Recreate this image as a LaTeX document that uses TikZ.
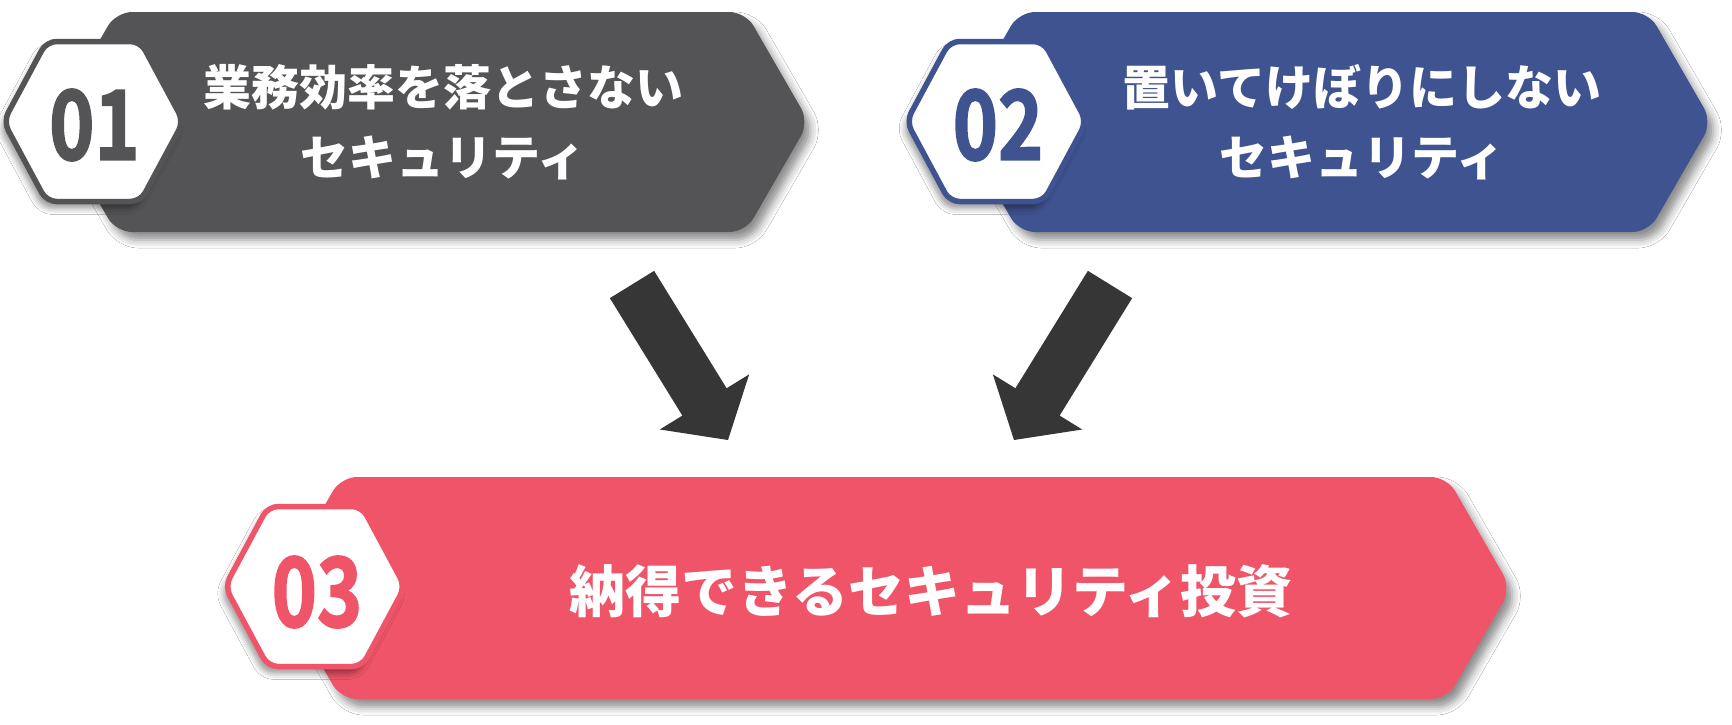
\documentclass[tikz,border=0pt]{standalone}
\usepackage{fontspec}
\usepackage{graphicx}
\newfontfamily\jp{Noto Sans CJK JP}
\newfontfamily\numf{Noto Sans CJK JP Bold}[FakeBold=2]
\usetikzlibrary{calc,shadows.blur}
\definecolor{cgray}{HTML}{545456}
\definecolor{cnavy}{HTML}{3E538F}
\definecolor{cpink}{HTML}{F05469}
\definecolor{carrow}{HTML}{363636}
\tikzset{
  softshadow/.style={blur shadow={shadow xshift=6pt, shadow yshift=-8pt, shadow blur radius=8pt, shadow opacity=45}},
  bodyshape/.style={rounded corners=16pt, softshadow},
  badgeshape/.style={fill=white, line width=5.5pt, rounded corners=10pt,
    blur shadow={shadow xshift=-4pt, shadow yshift=-7pt, shadow blur radius=6pt, shadow opacity=40}},
  lbl/.style={text=white, font=\jp\bfseries\fontsize{48}{70}\selectfont, align=center, inner sep=0pt},
  lblbig/.style={text=white, font=\jp\bfseries\fontsize{56}{66}\selectfont, inner sep=0pt},
  numlbl/.style={font=\numf\fontsize{96}{96}\selectfont, inner sep=0pt},
  fatarrow/.style={fill=carrow},
}
\newcommand{\mybadge}[3]{%
  \draw[badgeshape, draw=#3, shift={(#1,#2)}]
    (0,-80) -- (47,-80) -- (90,0) -- (47,80) -- (-47,80) -- (-90,0) -- (-47,-80) -- cycle;}
\begin{document}
\begin{tikzpicture}[x=1pt,y=-1pt]
  \path[fill=white, use as bounding box] (0,0) rectangle (1732,724);

  % bodies
  \fill[cgray, bodyshape]
    (430,12) -- (745.5,12) -- (809,122) -- (745.5,232) -- (116,232) -- (52.5,122) -- (116,12) -- cycle;
  \fill[cnavy, bodyshape]
    (1333,12) -- (1648.5,12) -- (1712,122) -- (1648.5,232) -- (1019,232) -- (955.5,122) -- (1019,12) -- cycle;
  \fill[cpink, bodyshape]
    (900,477) -- (1447,477) -- (1511,588) -- (1447,699) -- (341,699) -- (277,588) -- (341,477) -- cycle;

  % badges
  \mybadge{93.5}{121.5}{cgray}
  \mybadge{996.5}{121.5}{cnavy}
  \mybadge{315}{586.5}{cpink}

  % numbers
  \node[numlbl, text=cgray] (n1) at (94.5,125) {\scalebox{0.8}[1]{01}};
  \node[numlbl, text=cnavy] (n2) at (998,125) {\scalebox{0.8}[1]{02}};
  \node[numlbl, text=cpink] (n3) at (317,592) {\scalebox{0.8}[1]{03}};

  % texts
  \node[lbl] (t1) at (443,122) {業務効率を落とさない\\セキュリティ};
  \node[lbl] (t2) at (1362,122) {置いてけぼりにしない\\セキュリティ};
  \node[lblbig] (t3) at (931,591) {納得できるセキュリティ投資};

  % arrows
  \coordinate (a1s) at (632,284.5);
  \coordinate (a1e) at (728,440);
  \coordinate (a2s) at (1110,284.5);
  \coordinate (a2e) at (1014,440);
  \foreach \s/\e in {a1s/a1e, a2s/a2e}{
    \coordinate (hb) at ($(\s)!138pt!(\e)$);
    \fill[fatarrow]
      ($(\s)!26pt!90:(\e)$) -- ($(hb)!26pt!90:(\e)$) -- ($(hb)!52.5pt!90:(\e)$) -- (\e)
      -- ($(hb)!52.5pt!-90:(\e)$) -- ($(hb)!26pt!-90:(\e)$) -- ($(\s)!26pt!-90:(\e)$) -- cycle;
  }
\end{tikzpicture}
\end{document}
